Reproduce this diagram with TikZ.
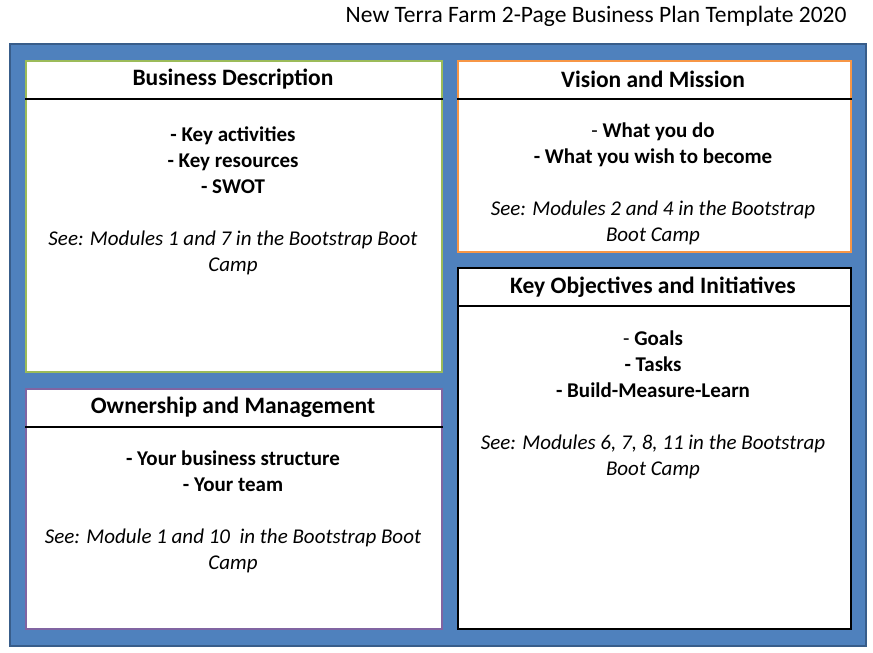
\documentclass[tikz,border=0pt]{standalone}
\usepackage{fontspec}
\setmainfont{Carlito}
\usetikzlibrary{positioning,calc}
\definecolor{bgblue}{HTML}{4F81BD}
\definecolor{bgedge}{HTML}{385D8A}
\definecolor{bdgreen}{HTML}{9BBB59}
\definecolor{bdorange}{HTML}{F79646}
\definecolor{bdpurple}{HTML}{8064A2}
\tikzset{
  panel/.style={draw=#1, line width=2pt, fill=white, anchor=north west, inner sep=0pt},
  headtxt/.style={font=\bfseries\fontsize{23.5}{26}\selectfont},
  bodytxt/.style={align=center, font=\fontsize{21}{26}\selectfont},
}
\begin{document}
\begin{tikzpicture}[x=1pt,y=-1pt]
\useasboundingbox (0,0) rectangle (873,653);

\node[anchor=east, font=\fontsize{23.5}{26}\selectfont] (title) at (850,16) {New Terra Farm 2-Page Business Plan Template 2020};
\draw[bgedge, line width=1.5pt, fill=bgblue] (10,44) rectangle (866,646);

% panels
\node[panel=bdgreen, minimum width=416pt, minimum height=311pt] (desc) at (25,60) {};
\node[panel=bdorange, minimum width=393pt, minimum height=191pt] (vis) at (457,60) {};
\node[panel=black, minimum width=393pt, minimum height=361pt] (obj) at (457,267) {};
\node[panel=bdpurple, minimum width=416pt, minimum height=240pt] (own) at (25,388) {};

% header rules
\draw[line width=2pt] ($(desc.north west)+(0,39)$) -- ($(desc.north east)+(0,39)$);
\draw[line width=2pt] ($(vis.north west)+(0,39)$) -- ($(vis.north east)+(0,39)$);
\draw[line width=2pt] ($(obj.north west)+(0,39)$) -- ($(obj.north east)+(0,39)$);
\draw[line width=2pt] ($(own.north west)+(0,39)$) -- ($(own.north east)+(0,39)$);

% headers
\node[headtxt] (deschead) at (233,79) {Business Description};
\node[headtxt] (vishead) at (653,79) {Vision and Mission};
\node[headtxt] (objhead) at (653,287) {Key Objectives and Initiatives};
\node[headtxt] (ownhead) at (233,407) {Ownership and Management};

% bodies
\node[bodytxt, anchor=north] (descbody) at (233,123) {\textbf{- Key activities}\\\textbf{- Key resources}\\\textbf{- SWOT}\\[26pt]
  \textit{See: Modules 1 and 7 in the Bootstrap Boot}\\\textit{Camp}};
\node[bodytxt, anchor=north] (visbody) at (653,119) {- \textbf{What you do}\\\textbf{- What you wish to become}\\[26pt]
  \textit{See: Modules 2 and 4 in the Bootstrap}\\\textit{Boot Camp}};
\node[bodytxt, anchor=north] (objbody) at (653,327) {- \textbf{Goals}\\\textbf{- Tasks}\\\textbf{- Build-Measure-Learn}\\[26pt]
  \textit{See: Modules 6, 7, 8, 11 in the Bootstrap}\\\textit{Boot Camp}};
\node[bodytxt, anchor=north] (ownbody) at (233,447) {\textbf{- Your business structure}\\\textbf{- Your team}\\[26pt]
  \textit{See: Module 1 and 10~ in the Bootstrap Boot}\\\textit{Camp}};
\end{tikzpicture}
\end{document}
